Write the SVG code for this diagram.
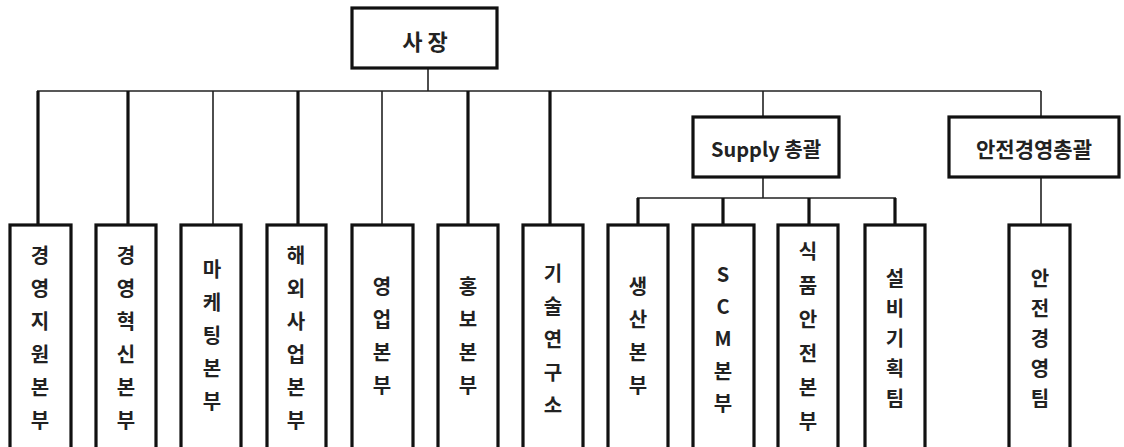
<svg xmlns="http://www.w3.org/2000/svg" width="1124" height="447" viewBox="0 0 1124 447">
<style>
.box{fill:#fff;stroke:#111;stroke-width:3.2}
.thin{stroke:#222;stroke-width:1.6;fill:none}
.thick{stroke:#111;stroke-width:3.2;fill:none}
text{font-family:"Noto Sans CJK KR","Noto Sans",sans-serif;font-weight:bold;fill:#222;text-anchor:middle;dominant-baseline:central}
.v{font-size:20px}
.h{font-size:21px}
</style>
<rect width="1124" height="447" fill="#fff"/>
<g id="connectors">
<path class="thin" d="M428,68V91M37,91H1041M763,91V117M1041,91V117"/>
<path class="thick" d="M38,91V225M128,91V225M298,91V225M468,91V225M550,91V225"/>
<path class="thin" d="M213,91V225M382,91V225"/>
<path class="thin" d="M763,177V198M637,198H896M1041,177V225"/>
<path class="thick" d="M638,198V225M723,198V225M809,198V225M895,198V225"/>
</g>
<g id="n-ceo"><rect class="box" x="352" y="8" width="145" height="60"/><text class="h" x="425" y="40" style="font-size:22px">사 장</text></g>
<g id="n-supply"><rect class="box" x="693" y="117" width="146" height="60"/><text class="h" x="766" y="148" style="font-size:20px">Supply 총괄</text></g>
<g id="n-safety"><rect class="box" x="949" y="117" width="170" height="60"/><text class="h" x="1034" y="148">안전경영총괄</text></g>
<g id="n1"><rect class="box" x="10" y="225" width="61" height="230"/><text class="v"><tspan x="40" y="254">경</tspan><tspan x="40" y="287">영</tspan><tspan x="40" y="320">지</tspan><tspan x="40" y="353">원</tspan><tspan x="40" y="386">본</tspan><tspan x="40" y="419">부</tspan></text></g>
<g id="n2"><rect class="box" x="96" y="225" width="60" height="230"/><text class="v"><tspan x="126" y="254">경</tspan><tspan x="126" y="287">영</tspan><tspan x="126" y="320">혁</tspan><tspan x="126" y="353">신</tspan><tspan x="126" y="386">본</tspan><tspan x="126" y="419">부</tspan></text></g>
<g id="n3"><rect class="box" x="181" y="225" width="60" height="230"/><text class="v"><tspan x="212" y="268">마</tspan><tspan x="212" y="301">케</tspan><tspan x="212" y="334">팅</tspan><tspan x="212" y="367">본</tspan><tspan x="212" y="400">부</tspan></text></g>
<g id="n4"><rect class="box" x="267" y="225" width="59" height="230"/><text class="v"><tspan x="296" y="254">해</tspan><tspan x="296" y="287">외</tspan><tspan x="296" y="320">사</tspan><tspan x="296" y="353">업</tspan><tspan x="296" y="386">본</tspan><tspan x="296" y="419">부</tspan></text></g>
<g id="n5"><rect class="box" x="352" y="225" width="61" height="230"/><text class="v"><tspan x="382" y="285">영</tspan><tspan x="382" y="318">업</tspan><tspan x="382" y="351">본</tspan><tspan x="382" y="384">부</tspan></text></g>
<g id="n6"><rect class="box" x="438" y="225" width="60" height="230"/><text class="v"><tspan x="468" y="285">홍</tspan><tspan x="468" y="318">보</tspan><tspan x="468" y="351">본</tspan><tspan x="468" y="384">부</tspan></text></g>
<g id="n7"><rect class="box" x="523" y="225" width="60" height="230"/><text class="v"><tspan x="553" y="272">기</tspan><tspan x="553" y="305">술</tspan><tspan x="553" y="338">연</tspan><tspan x="553" y="371">구</tspan><tspan x="553" y="404">소</tspan></text></g>
<g id="n8"><rect class="box" x="608" y="225" width="60" height="230"/><text class="v"><tspan x="638" y="285">생</tspan><tspan x="638" y="318">산</tspan><tspan x="638" y="351">본</tspan><tspan x="638" y="384">부</tspan></text></g>
<g id="n9"><rect class="box" x="693" y="225" width="61" height="230"/><text class="v"><tspan x="723" y="273">S</tspan><tspan x="723" y="305">C</tspan><tspan x="723" y="337">M</tspan><tspan x="723" y="370">본</tspan><tspan x="723" y="402">부</tspan></text></g>
<g id="n10"><rect class="box" x="778" y="225" width="60" height="230"/><text class="v"><tspan x="808" y="250">식</tspan><tspan x="808" y="284">품</tspan><tspan x="808" y="318">안</tspan><tspan x="808" y="352">전</tspan><tspan x="808" y="386">본</tspan><tspan x="808" y="420">부</tspan></text></g>
<g id="n11"><rect class="box" x="865" y="225" width="60" height="230"/><text class="v"><tspan x="895" y="277">설</tspan><tspan x="895" y="307">비</tspan><tspan x="895" y="337">기</tspan><tspan x="895" y="367">획</tspan><tspan x="895" y="397">팀</tspan></text></g>
<g id="n12"><rect class="box" x="1009" y="225" width="61" height="230"/><text class="v"><tspan x="1040" y="277">안</tspan><tspan x="1040" y="307">전</tspan><tspan x="1040" y="337">경</tspan><tspan x="1040" y="367">영</tspan><tspan x="1040" y="397">팀</tspan></text></g>
</svg>
